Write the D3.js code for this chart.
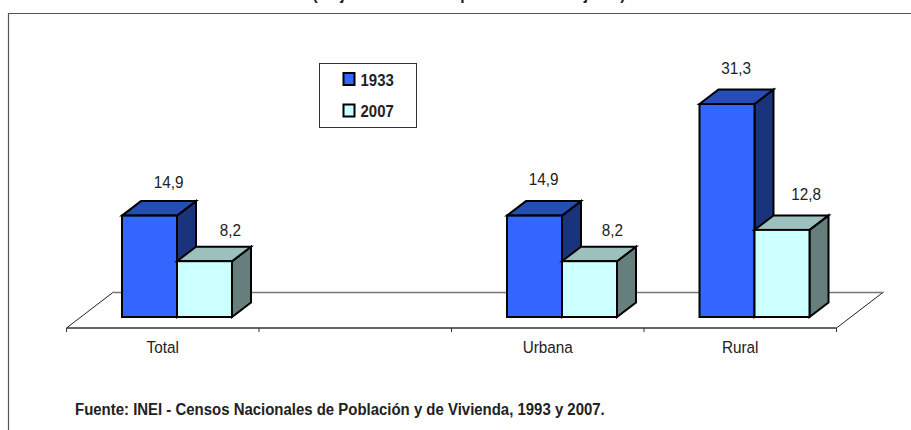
<!DOCTYPE html>
<html>
<head>
<meta charset="utf-8">
<script src="https://cdnjs.cloudflare.com/ajax/libs/d3/7.8.5/d3.min.js"></script>
<style>
  html, body { margin: 0; padding: 0; background: #fff; overflow: hidden; }
  svg { display: block; }
  text { font-family: "Liberation Sans", Arial, sans-serif; fill: #222; }
</style>
</head>
<body>
<script>
// datos
const categories = ["Total", "", "Urbana", "Rural"];
const seriesNames = ["1933", "2007"];
const values1933 = [14.9, null, 14.9, 31.3];
const values2007 = [8.2, null, 8.2, 12.8];
// el titulo esta cortado arriba en el original, solo se ven los rasgos inferiores: texto estimado
const titleText = "(Mujeres de 15 a 49 por cada 100 mujeres)";
const sourceText = "Fuente: INEI - Censos Nacionales de Población y de Vivienda, 1993 y 2007.";

const width = 911;
const height = 430;

const colors = [
  { front: "#3366ff", top: "#264db5", side: "#1a337d" },
  { front: "#ccffff", top: "#9bc0bd", side: "#667f7d" }
];

const svg = d3.select("body")
  .append("svg")
  .attr("width", width)
  .attr("height", height);

// texto angosto: no hay Arial Narrow, se comprime en horizontal
function narrow(sel, px, py, sx, size) {
  return sel
    .attr("transform", (d, i) => {
      const tx = typeof px === "function" ? px(d, i) : px;
      const ty = typeof py === "function" ? py(d, i) : py;
      return `translate(${tx},${ty}) scale(${sx},1)`;
    })
    .style("font-size", size + "px");
}

// marco
svg.append("path")
  .attr("d", `M8.5,${height}V13.5H${width}`)
  .attr("fill", "none")
  .attr("stroke", "#555")
  .attr("stroke-width", 1.2);

svg.append("text")
  .attr("text-anchor", "middle")
  .style("font-weight", "bold")
  .text(titleText)
  .call(narrow, 469, -0.5, 0.92, 17);

// escalas
const x = d3.scaleBand().domain(d3.range(categories.length)).range([66.5, 836.5]);
const y = d3.scaleLinear().domain([0, 31.3]).range([317, 104]);
const inner = d3.scaleBand().domain([0, 1]).range([55.5, 165.5]);

const depth = { dx: 19, dy: 14.5 };
const floor = { dx: 47, dy: 36, front: 328 };
const [x0, x1] = x.range();

// piso
svg.append("path")
  .attr("d", `M${x0},${floor.front}L${x0 + floor.dx},${floor.front - floor.dy}`)
  .attr("stroke", "#222");
svg.append("path")
  .attr("d", `M${x1},${floor.front}L${x1 + floor.dx},${floor.front - floor.dy}`)
  .attr("stroke", "#222");
svg.append("line")
  .attr("x1", x0 + floor.dx)
  .attr("x2", x1 + floor.dx)
  .attr("y1", floor.front - floor.dy + 0.5)
  .attr("y2", floor.front - floor.dy + 0.5)
  .attr("stroke", "#777")
  .attr("stroke-width", 1.4);

svg.append("line")
  .attr("x1", x0)
  .attr("x2", x1)
  .attr("y1", floor.front)
  .attr("y2", floor.front)
  .attr("stroke", "#333")
  .attr("stroke-width", 1.4);

svg.selectAll(".tick-mark")
  .data(d3.range(categories.length + 1))
  .enter()
  .append("line")
  .classed("tick-mark", true)
  .attr("x1", d => x0 + d * x.bandwidth())
  .attr("x2", d => x0 + d * x.bandwidth())
  .attr("y1", floor.front)
  .attr("y2", floor.front + 4)
  .attr("stroke", "#333");

svg.selectAll(".cat-label")
  .data(categories)
  .enter()
  .append("text")
  .classed("cat-label", true)
  .attr("text-anchor", "middle")
  .text(d => d)
  .call(narrow, (d, i) => x(i) + x.bandwidth() / 2, 353, 0.9, 17);

// barras 3D
const rows = [];
categories.forEach((c, i) => {
  [values1933, values2007].forEach((vals, s) => {
    if (vals[i] != null) rows.push({ cat: i, s, value: vals[i] });
  });
});

const bars = svg.selectAll(".bar")
  .data(rows)
  .enter()
  .append("g")
  .classed("bar", true)
  .attr("stroke", "#000")
  .attr("stroke-width", 2);

const bx = d => x(d.cat) + inner(d.s);
const w = inner.bandwidth();

bars.append("path")
  .attr("fill", d => colors[d.s].side)
  .attr("d", d => `M${bx(d) + w},${y(d.value)}l${depth.dx},${-depth.dy}V${y(0) - depth.dy}l${-depth.dx},${depth.dy}Z`);

bars.append("path")
  .attr("fill", d => colors[d.s].top)
  .attr("d", d => `M${bx(d)},${y(d.value)}l${depth.dx},${-depth.dy}h${w}l${-depth.dx},${depth.dy}Z`);

bars.append("rect")
  .attr("fill", d => colors[d.s].front)
  .attr("x", d => bx(d))
  .attr("y", d => y(d.value))
  .attr("width", w)
  .attr("height", d => y(0) - y(d.value));

// las etiquetas del original estan movidas a mano
const labelNudge = [[0, -28], [7, -25], [-10, -31], [4, -25], [-10, -30], [5, -30]];

svg.selectAll(".val-label")
  .data(rows)
  .enter()
  .append("text")
  .classed("val-label", true)
  .attr("text-anchor", "middle")
  .text(d => String(d.value).replace(".", ","))
  .call(narrow,
    (d, i) => bx(d) + w / 2 + depth.dx + labelNudge[i][0],
    (d, i) => y(d.value) + labelNudge[i][1],
    0.9, 17);

// leyenda
const legend = svg.append("g").attr("transform", "translate(319.5,63.5)");
legend.append("rect")
  .attr("width", 97)
  .attr("height", 64)
  .attr("fill", "#fff")
  .attr("stroke", "#333");

const legendY = d3.scalePoint().domain(seriesNames).range([15.5, 47]);
seriesNames.forEach((name, i) => {
  legend.append("rect")
    .attr("x", 24)
    .attr("y", legendY(name) - 6)
    .attr("width", 11)
    .attr("height", 12)
    .attr("fill", colors[i].front)
    .attr("stroke", "#000")
    .attr("stroke-width", 2);
  legend.append("text")
    .style("font-weight", "bold")
    .text(name)
    .call(narrow, 41, legendY(name) + 6.5, 0.88, 17);
});

svg.append("text")
  .style("font-weight", "bold")
  .text(sourceText)
  .call(narrow, 75, 414.5, 0.88, 17);
</script>
</body>
</html>
